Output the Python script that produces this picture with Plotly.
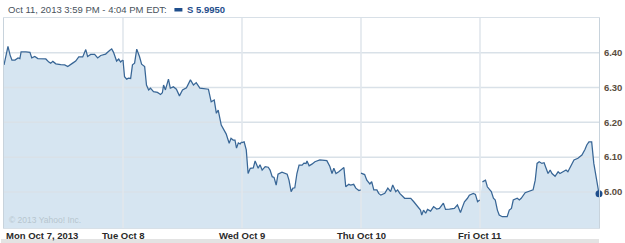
import plotly.graph_objects as go

# ---------------- data ----------------
day_labels = ["Mon Oct 7, 2013", "Tue Oct 8", "Wed Oct 9", "Thu Oct 10", "Fri Oct 11"]
SESSION_MIN = 390  # minutes in a trading session

mon_min = [0, 7, 13, 20, 26, 36, 46, 52, 56, 72, 85, 91, 101, 111, 121, 137, 147, 153, 160, 170,
           186, 199, 209, 219, 225, 235, 245, 258, 268, 274, 284, 297, 307, 317, 333, 346, 353, 359,
           366, 369, 376, 382, 389]
mon_px = [6.365, 6.393, 6.418, 6.393, 6.379, 6.379, 6.385, 6.383, 6.402, 6.402, 6.401, 6.385, 6.389,
          6.383, 6.382, 6.382, 6.373, 6.370, 6.375, 6.368, 6.366, 6.365, 6.360, 6.365, 6.370, 6.376,
          6.388, 6.388, 6.409, 6.389, 6.395, 6.395, 6.385, 6.392, 6.396, 6.406, 6.411, 6.401, 6.385,
          6.376, 6.382, 6.373, 6.379]

tue_min = [0, 5, 12, 18, 25, 31, 38, 45, 54, 61, 71, 77, 84, 90, 100, 113, 123, 129, 133, 139,
           149, 155, 165, 175, 185, 195, 208, 221, 231, 240, 252, 267, 280, 289, 299, 306, 312, 322,
           332, 338, 348, 354, 361, 367, 372, 378, 384, 389]
tue_px = [6.379, 6.331, 6.324, 6.327, 6.326, 6.365, 6.370, 6.410, 6.389, 6.367, 6.360, 6.307, 6.293,
          6.298, 6.288, 6.286, 6.280, 6.285, 6.307, 6.293, 6.324, 6.298, 6.302, 6.295, 6.276, 6.293,
          6.299, 6.322, 6.307, 6.314, 6.298, 6.296, 6.295, 6.259, 6.264, 6.226, 6.235, 6.192, 6.178,
          6.167, 6.140, 6.154, 6.149, 6.149, 6.126, 6.141, 6.138, 6.144]

wed_min = [0, 7, 14, 20, 27, 37, 43, 53, 59, 66, 76, 86, 92, 99, 105, 112, 118, 131, 148, 154,
           161, 167, 173, 180, 187, 197, 203, 210, 213, 220, 229, 239, 255, 278, 288, 295, 301, 308,
           317, 324, 334, 340, 350, 356, 366, 373, 383, 389]
wed_px = [6.142, 6.144, 6.121, 6.053, 6.068, 6.069, 6.089, 6.068, 6.078, 6.063, 6.073, 6.071, 6.063,
          6.044, 6.042, 6.020, 6.051, 6.057, 6.051, 6.034, 6.001, 6.011, 6.012, 6.053, 6.077, 6.077,
          6.083, 6.082, 6.089, 6.075, 6.080, 6.087, 6.092, 6.090, 6.073, 6.053, 6.068, 6.053, 6.058,
          6.063, 6.070, 6.015, 6.022, 6.020, 6.022, 6.011, 6.004, 6.006]

thu_min = [0, 12, 19, 29, 35, 42, 52, 58, 65, 78, 88, 97, 104, 114, 120, 127, 143, 163, 173, 186,
           195, 199, 205, 212, 218, 228, 238, 248, 257, 270, 277, 290, 306, 316, 326, 333, 339, 349,
           355, 368, 375, 382, 389]
thu_px = [6.054, 6.050, 6.034, 6.023, 6.030, 6.006, 6.006, 5.996, 5.991, 5.996, 6.011, 6.001, 6.020,
          6.001, 6.006, 5.996, 5.982, 5.982, 5.972, 5.958, 5.948, 5.934, 5.948, 5.939, 5.950, 5.945,
          5.958, 5.951, 5.953, 5.968, 5.950, 5.951, 5.953, 5.963, 5.941, 5.958, 5.972, 5.982, 5.991,
          5.996, 5.993, 5.972, 5.977]

fri_min = [8, 14, 18, 24, 31, 37, 44, 50, 57, 63, 73, 89, 96, 103, 109, 116, 122, 129, 135, 148,
           161, 174, 181, 187, 194, 203, 210, 217, 223, 230, 236, 246, 256, 262, 272, 282, 288, 298,
           308, 321, 334, 344, 350, 357, 366, 373, 379, 386, 390]
fri_px = [6.029, 6.031, 6.034, 6.015, 6.006, 6.001, 5.982, 5.977, 5.948, 5.934, 5.929, 5.929, 5.948,
          5.953, 5.977, 5.979, 5.982, 5.977, 5.982, 5.998, 6.003, 6.006, 6.034, 6.082, 6.087, 6.082,
          6.084, 6.068, 6.053, 6.063, 6.053, 6.045, 6.058, 6.053, 6.058, 6.063, 6.058, 6.074, 6.092,
          6.097, 6.106, 6.122, 6.135, 6.144, 6.144, 6.082, 6.053, 6.015, 5.995]

y_ticks = [6.00, 6.10, 6.20, 6.30, 6.40]
y_range = [5.8966, 6.4996]

title_text = "Oct 11, 2013 3:59 PM - 4:04 PM EDT:"
quote_text = "S 5.9950"
copyright_text = "© 2013 Yahoo! Inc."

# ---------------- build ----------------
all_min = [mon_min, tue_min, wed_min, thu_min, fri_min]
all_px = [mon_px, tue_px, wed_px, thu_px, fri_px]

xs, ys = [], []
for d, (mins, pxs) in enumerate(zip(all_min, all_px)):
    xs += [d + m / SESSION_MIN for m in mins] + [None]
    ys += list(pxs) + [None]

n_days = len(day_labels)
GRID = "#d9e1e8"
FILL = "#d6e5f1"
LINE = "#386696"
DARK = "#1f4e8c"

fig = go.Figure()
# area fill
fig.add_trace(go.Scatter(x=xs, y=ys, mode="lines", line=dict(width=0, color=FILL),
                         fill="tozeroy", fillcolor=FILL, connectgaps=False, hoverinfo="skip"))
# grid lines drawn above the fill but under the price line
for v in y_ticks:
    fig.add_trace(go.Scatter(x=[0, n_days], y=[v, v], mode="lines",
                             line=dict(color=GRID, width=1.5), hoverinfo="skip"))
for d in range(1, n_days):
    fig.add_trace(go.Scatter(x=[d, d], y=y_range, mode="lines",
                             line=dict(color="#e1e7ed", width=1.6), hoverinfo="skip"))
# price line
fig.add_trace(go.Scatter(x=xs, y=ys, mode="lines", line=dict(color=LINE, width=1.25),
                         connectgaps=False, hoverinfo="skip"))
# last-price marker
fig.add_trace(go.Scatter(x=[n_days - 1 + fri_min[-1] / SESSION_MIN], y=[fri_px[-1]], mode="markers",
                         marker=dict(size=7, color=DARK), cliponaxis=False, hoverinfo="skip"))

W, H = 625, 243
ml, mr, mt, mb = 3, 25, 18, 15
pw, ph = W - ml - mr, H - mt - mb


def px_x(px):
    return (px - ml) / pw


def px_y(py):
    return (H - mb - py) / ph


annotations = []
for d, lab in enumerate(day_labels):
    annotations.append(dict(x=d, xref="x", y=px_y(235), yref="paper", text=lab, showarrow=False,
                            xanchor="left" if d == 0 else "center", yanchor="middle",
                            font=dict(family="Liberation Sans", size=9.5, color="#2a2a2a", weight="bold")))
annotations.append(dict(x=px_x(5), xref="paper", y=px_y(9.5), yref="paper", text=title_text,
                        showarrow=False, xanchor="left", yanchor="middle",
                        font=dict(family="Liberation Sans", size=9.5, color="#48525c")))
annotations.append(dict(x=px_x(185), xref="paper", y=px_y(9.5), yref="paper", text=quote_text,
                        showarrow=False, xanchor="left", yanchor="middle",
                        font=dict(family="Liberation Sans", size=9.5, color=DARK, weight="bold")))
annotations.append(dict(x=px_x(6), xref="paper", y=px_y(220), yref="paper", text=copyright_text,
                        showarrow=False, xanchor="left", yanchor="middle",
                        font=dict(family="Liberation Sans", size=8.5, color="#b7c5cf")))

shapes = [
    dict(type="rect", xref="paper", yref="paper", x0=px_x(174), x1=px_x(182), y0=px_y(11.5), y1=px_y(8),
         fillcolor=DARK, line=dict(width=0)),
    dict(type="rect", xref="paper", yref="paper", x0=px_x(0), x1=px_x(600), y0=px_y(243), y1=px_y(239),
         fillcolor="#e3e3e3", line=dict(width=0), layer="below"),
]

fig.update_layout(
    width=W, height=H, margin=dict(l=ml, r=mr, t=mt, b=mb),
    paper_bgcolor="white", plot_bgcolor="white", showlegend=False,
    xaxis=dict(range=[0, n_days], showgrid=False, zeroline=False, showticklabels=False,
               showline=True, mirror=True, linecolor="#d8e0e7", linewidth=1, fixedrange=True),
    yaxis=dict(side="right", range=y_range, tickvals=y_ticks, ticktext=[f"{v:.2f}" for v in y_ticks],
               showgrid=False, zeroline=False, showline=True, mirror=True, linecolor="#c8d3dc",
               linewidth=1, ticks="", ticklabelstandoff=2,
               tickfont=dict(family="Liberation Sans", size=9.5, color="#5a4e40", weight="bold"),
               fixedrange=True),
    annotations=annotations, shapes=shapes,
)

fig.write_html("out.html")
